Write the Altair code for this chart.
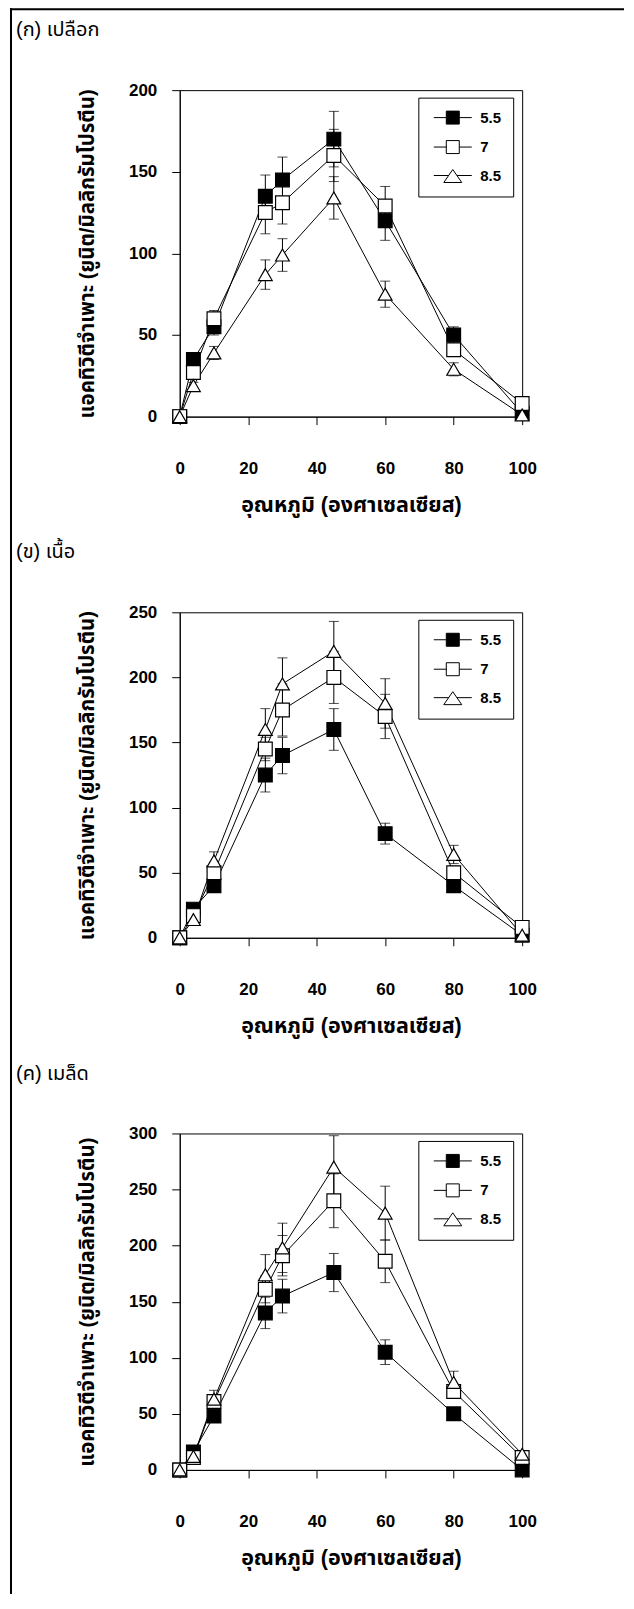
import altair as alt
import pandas as pd

temps = [0, 4, 10, 25, 30, 45, 60, 80, 100]
ph_levels = ["5.5", "7", "8.5"]

peel_55 = [0, 35, 55, 135, 145, 170, 120, 50, 2]
peel_7 = [0, 27, 60, 125, 131, 160, 129, 41, 8]
peel_85 = [0, 19, 39, 87, 99, 134, 75, 29, 1]
peel_55_err = [0, 2, 5, 13, 14, 17, 12, 5, 1]
peel_7_err = [0, 2, 5, 13, 13, 16, 12, 4, 1]
peel_85_err = [0, 2, 4, 9, 10, 13, 8, 4, 1]

flesh_55 = [0, 22, 40, 125, 140, 160, 80, 40, 2]
flesh_7 = [0, 17, 50, 145, 175, 200, 170, 50, 8]
flesh_85 = [0, 14, 59, 160, 195, 220, 180, 64, 2]
flesh_55_err = [0, 2, 4, 13, 14, 16, 8, 3, 1]
flesh_7_err = [0, 2, 5, 9, 20, 20, 17, 5, 1]
flesh_85_err = [0, 2, 7, 16, 20, 23, 19, 7, 1]

seed_55 = [0, 16, 48, 140, 155, 176, 105, 50, 0]
seed_7 = [0, 11, 61, 161, 191, 240, 186, 70, 11]
seed_85 = [0, 12, 63, 174, 198, 270, 229, 78, 14]
seed_55_err = [0, 2, 4, 14, 15, 17, 11, 3, 1]
seed_7_err = [0, 2, 6, 12, 18, 24, 19, 6, 2]
seed_85_err = [0, 2, 8, 18, 22, 28, 24, 10, 2]

panel_titles = ["(ก) เปลือก", "(ข) เนื้อ", "(ค) เมล็ด"]
y_title = "แอคทิวิตีจำเพาะ (ยูนิต/มิลลิกรัมโปรตีน)"
x_title = "อุณหภูมิ (องศาเซลเซียส)"
x_ticks = [0, 20, 40, 60, 80, 100]
y_max = [200, 250, 300]

FONT = "Liberation Sans, Arial, Noto Sans Thai, DejaVu Sans, sans-serif"
PLOT_W = 343

# legend symbols: line + marker (custom paths, unit = 7.5 px)
LEG_SQ = "M-0.6,0L1.067,0M2.8,0L4.467,0M1.067,-0.867L2.8,-0.867L2.8,0.867L1.067,0.867Z"
LEG_TRI = "M-0.6,0L1.379,0M2.487,0L4.467,0M1.933,-0.8L3.133,0.933L0.733,0.933Z"


def make_df(means, errs):
    rows = []
    for ph, m, e in zip(ph_levels, means, errs):
        for t, v, s in zip(temps, m, e):
            rows.append({"temp": t, "ph": ph, "act": v, "lo": v - s, "hi": v + s})
    return pd.DataFrame(rows)


def panel(means, errs, label, ymax, height, first):
    df = make_df(means, errs)
    xs = alt.Scale(domain=[0, 100], nice=False, zero=False)
    ys = alt.Scale(domain=[0, ymax], nice=False)
    x_axis = alt.Axis(values=x_ticks, tickSize=8, labelPadding=36, title=x_title,
                      titlePadding=18, titleFontSize=21.5, grid=False, labelFlush=False)
    y_axis = alt.Axis(values=list(range(0, ymax + 1, 50)), tickSize=8, labelPadding=15,
                      title=y_title, titlePadding=31, titleFontSize=20.5, grid=False)
    base = alt.Chart(df)
    x = alt.X("temp:Q", scale=xs, axis=x_axis)
    stems = base.mark_rule(color="black", strokeWidth=1).encode(
        x=x, y=alt.Y("lo:Q", scale=ys, axis=y_axis), y2="hi:Q")
    cap_lo = base.mark_tick(orient="horizontal", size=10, thickness=1, color="black").encode(
        x=x, y=alt.Y("lo:Q", scale=ys))
    cap_hi = base.mark_tick(orient="horizontal", size=10, thickness=1, color="black").encode(
        x=x, y=alt.Y("hi:Q", scale=ys))
    lines = base.mark_line(color="black", strokeWidth=1).encode(
        x=x, y=alt.Y("act:Q", scale=ys), detail="ph:N", order="temp:Q")
    points = base.mark_point(filled=True, stroke="black", strokeWidth=1.2, size=190, opacity=1).encode(
        x=x, y=alt.Y("act:Q", scale=ys),
        shape=alt.Shape("ph:N", scale=alt.Scale(domain=ph_levels, range=["square", "square", "triangle-up"]), legend=None),
        fill=alt.Fill("ph:N", scale=alt.Scale(domain=ph_levels, range=["black", "white", "white"]), legend=None),
    )
    leg = alt.Legend(title=None, orient="none", legendX=239, legendY=7.5, padding=12,
                     strokeColor="black", fillColor="white", symbolSize=225, symbolStrokeWidth=1,
                     labelFont=FONT, labelFontSize=15, labelFontWeight="bold",
                     labelColor="black", labelOffset=34, rowPadding=11.5)
    # legend-only layer: no rows drawn, scales keep the explicit domain
    legend_layer = base.transform_filter("datum.temp < -1000").mark_point(
        filled=True, stroke="black", strokeWidth=1, opacity=1).encode(
        x=x, y=alt.Y("act:Q", scale=ys),
        shape=alt.Shape("ph:N", scale=alt.Scale(domain=ph_levels, range=[LEG_SQ, LEG_SQ, LEG_TRI]), legend=leg),
        fill=alt.Fill("ph:N", scale=alt.Scale(domain=ph_levels, range=["black", "white", "white"]), legend=leg),
    )
    one = alt.Chart(pd.DataFrame({"k": [0]}))
    title_text = one.mark_text(align="left", baseline="middle", fontSize=20, font=FONT,
                               color="black").encode(
        x=alt.value(-164), y=alt.value(-60), text=alt.value(label))
    layers = [stems, cap_lo, cap_hi, lines, points, legend_layer, title_text]
    if first:
        layers.append(one.mark_rule(color="black", strokeWidth=2).encode(
            x=alt.value(-169), y=alt.value(-82), y2=alt.value(1600)))
        layers.append(one.mark_rule(color="black", strokeWidth=2).encode(
            x=alt.value(-170), x2=alt.value(445), y=alt.value(-81)))
    return alt.layer(*layers).resolve_scale(shape="independent", fill="independent").properties(
        width=PLOT_W, height=height)


p1 = panel([peel_55, peel_7, peel_85], [peel_55_err, peel_7_err, peel_85_err],
           panel_titles[0], y_max[0], 327, True)
p2 = panel([flesh_55, flesh_7, flesh_85], [flesh_55_err, flesh_7_err, flesh_85_err],
           panel_titles[1], y_max[1], 326, False)
p3 = panel([seed_55, seed_7, seed_85], [seed_55_err, seed_7_err, seed_85_err],
           panel_titles[2], y_max[2], 337, False)

chart = alt.vconcat(p1, p2, p3, spacing=196, bounds="flush").properties(
    padding={"top": -3, "left": 0, "right": 0, "bottom": -97}
).configure_view(
    stroke="black", strokeWidth=1
).configure_axis(
    domainColor="black", tickColor="black", labelColor="black", titleColor="black",
    labelFont=FONT, titleFont=FONT, labelFontSize=17, labelFontWeight="bold",
    titleFontWeight="bold", domainWidth=1, tickWidth=1
)

chart.save("out.html", embed_options={"renderer": "svg", "actions": False})
